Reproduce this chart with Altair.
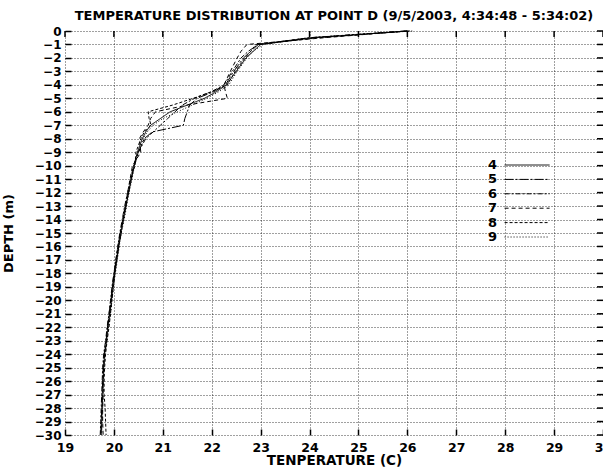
import altair as alt
import pandas as pd

TITLE = "TEMPERATURE DISTRIBUTION AT POINT D (9/5/2003, 4:34:48 - 5:34:02)"
X_TITLE = "TENPERATURE (C)"
Y_TITLE = "DEPTH (m)"
RUNS = ["4", "5", "6", "7", "8", "9"]
DASHES = [[1, 0], [9, 2, 2, 2], [5, 2, 2, 2], [4, 3], [3, 2], [1, 2]]
X_TICKS = list(range(19, 31))
Y_TICKS = list(range(0, -31, -1))

DEPTH = [0, -0.5, -1, -1.5, -2, -3, -4, -4.5, -5, -5.5, -6, -6.5, -7, -7.5, -8,
         -9, -10, -11, -12, -13, -14, -15, -16, -17, -18, -19, -20, -21, -22,
         -23, -24, -25, -26, -27, -28, -29, -30]

T4 = [26.0, 24.1, 23.0, 22.85, 22.7, 22.5, 22.3, 22.1, 21.85, 21.5, 21.15, 20.95, 20.75, 20.65, 20.58,
      20.48, 20.41, 20.36, 20.3, 20.25, 20.2, 20.14, 20.1, 20.06, 20.02, 19.98, 19.95, 19.92, 19.88,
      19.85, 19.81, 19.79, 19.78, 19.77, 19.76, 19.75, 19.74]
T5 = [26.05, 24.0, 22.95, 22.8, 22.65, 22.45, 22.28, 22.05, 21.7, 21.55, 21.5, 21.45, 21.42, 20.78, 20.62,
      20.5, 20.42, 20.35, 20.3, 20.24, 20.19, 20.15, 20.1, 20.05, 20.0, 19.97, 19.94, 19.9, 19.87,
      19.84, 19.8, 19.78, 19.77, 19.76, 19.75, 19.74, 19.73]
T6 = [25.95, 24.0, 22.95, 22.75, 22.6, 22.42, 22.25, 22.0, 21.65, 21.4, 21.25, 21.1, 20.95, 20.8, 20.65,
      20.5, 20.4, 20.34, 20.28, 20.22, 20.17, 20.12, 20.08, 20.04, 20.0, 19.96, 19.93, 19.9, 19.86,
      19.83, 19.79, 19.77, 19.76, 19.75, 19.74, 19.73, 19.72]
T7 = [26.0, 24.3, 22.72, 22.6, 22.52, 22.38, 22.25, 22.28, 22.32, 21.5, 20.85, 20.75, 20.7, 20.6, 20.52,
      20.55, 20.38, 20.33, 20.28, 20.24, 20.18, 20.13, 20.08, 20.04, 20.01, 19.97, 19.94, 19.91, 19.87,
      19.84, 19.81, 19.79, 19.78, 19.78, 19.77, 19.77, 19.78]
T8 = [26.0, 24.2, 22.9, 22.8, 22.68, 22.48, 22.32, 22.0, 21.62, 21.2, 20.7, 20.72, 20.76, 20.62, 20.55,
      20.45, 20.43, 20.34, 20.29, 20.23, 20.18, 20.13, 20.09, 20.05, 20.02, 19.99, 19.96, 19.93, 19.9,
      19.86, 19.83, 19.81, 19.8, 19.8, 19.82, 19.83, 19.84]
T9 = [26.1, 24.0, 23.05, 22.85, 22.72, 22.52, 22.35, 22.15, 21.9, 21.6, 21.3, 21.0, 20.8, 20.68, 20.6,
      20.5, 20.42, 20.37, 20.31, 20.26, 20.21, 20.15, 20.11, 20.07, 20.03, 19.99, 19.96, 19.93, 19.89,
      19.86, 19.82, 19.8, 19.79, 19.78, 19.77, 19.76, 19.75]

SERIES = [T4, T5, T6, T7, T8, T9]

rows = []
for run, temps in zip(RUNS, SERIES):
    for d, t in zip(DEPTH, temps):
        rows.append({"Run": run, "Depth": d, "Temperature": t})
df = pd.DataFrame(rows)

FONT = "DejaVu Sans"

x_scale = alt.Scale(domain=[19, 30], nice=False, zero=False)
y_scale = alt.Scale(domain=[-30, 0], nice=False, zero=False)

x_axis = alt.Axis(values=X_TICKS, title=X_TITLE, format="d", offset=-6, tickSize=6, tickWidth=1.5,
                  tickColor="black", domain=False, grid=True, gridDash=[1, 2], gridColor="#000",
                  gridOpacity=0.75, labelFont=FONT, labelFontSize=12.5, labelFontWeight="bold",
                  labelColor="black", labelPadding=6, labelFlush=False, labelOverlap=False,
                  titleFont=FONT, titleFontSize=13.5, titleFontWeight="bold", titleColor="black",
                  titlePadding=0)
y_axis = alt.Axis(values=Y_TICKS, title=Y_TITLE, format="d", offset=-6, tickSize=6, tickWidth=1.5,
                  tickColor="black", domain=False, grid=True, gridDash=[1, 2], gridColor="#000",
                  gridOpacity=0.75, labelFont=FONT, labelFontSize=12, labelFontWeight="bold",
                  labelColor="black", labelPadding=4, labelFlush=False, labelOverlap=False,
                  titleFont=FONT, titleFontSize=13, titleFontWeight="bold", titleColor="black",
                  titleX=-56)

legend = alt.Legend(title=None, orient="none", legendX=419, legendY=127.5,
                    symbolType="M2.5,0L10.5,0", symbolSize=126.5625, symbolStrokeWidth=1,
                    symbolStrokeColor="black", symbolOffset=0,
                    labelAlign="right", labelOffset=0,
                    labelFont=FONT, labelFontSize=13, labelFontWeight="bold", labelColor="black",
                    rowPadding=0.4, padding=0)

lines = alt.Chart(df).mark_line(color="black", strokeWidth=1).encode(
    x=alt.X("Temperature:Q", scale=x_scale, axis=x_axis),
    y=alt.Y("Depth:Q", scale=y_scale, axis=y_axis),
    strokeDash=alt.StrokeDash("Run:N", scale=alt.Scale(domain=RUNS, range=DASHES), legend=legend),
    order=alt.Order("Depth:Q", sort="descending"),
)

top_ticks = alt.Chart(pd.DataFrame({"Temperature": X_TICKS})).mark_tick(
    orient="vertical", size=6, thickness=1.5, color="black", yOffset=3, opacity=1
).encode(
    x=alt.X("Temperature:Q", scale=x_scale, axis=x_axis),
    y=alt.YDatum(0, type="quantitative", scale=y_scale, axis=y_axis),
)

right_ticks = alt.Chart(pd.DataFrame({"Depth": Y_TICKS})).mark_tick(
    orient="horizontal", size=6, thickness=1.5, color="black", xOffset=-3, opacity=1
).encode(
    x=alt.XDatum(30, type="quantitative", scale=x_scale, axis=x_axis),
    y=alt.Y("Depth:Q", scale=y_scale, axis=y_axis),
)

chart = alt.layer(lines, top_ticks, right_ticks).properties(
    width=538, height=404, autosize="none",
    padding={"left": 65, "top": 31, "right": 0, "bottom": 33},
    title=alt.Title(TITLE, font=FONT, fontSize=13, fontWeight="bold", color="black",
                    anchor="middle", offset=2),
    background="white",
).configure_view(stroke=None)

chart.save("out.html", embed_options={"renderer": "svg", "actions": False})
